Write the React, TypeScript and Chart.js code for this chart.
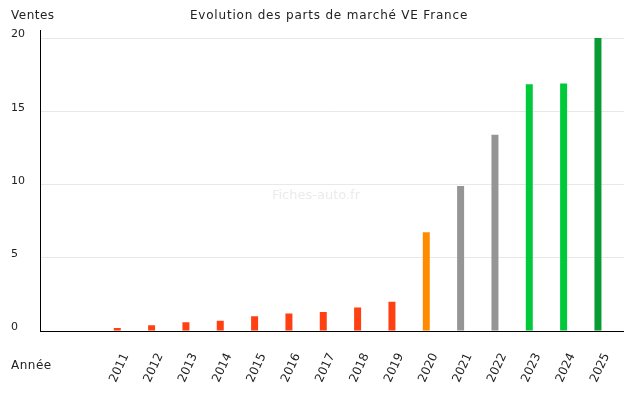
import React, { useEffect, useRef } from "react";
import { Chart, registerables } from "chart.js";

Chart.register(...registerables);

const categories = ["", "", "2011", "2012", "2013", "2014", "2015", "2016", "2017", "2018", "2019", "2020", "2021", "2022", "2023", "2024", "2025"];
const shares: (number | null)[] = [null, null, 0.2, 0.4, 0.6, 0.7, 1.0, 1.2, 1.3, 1.6, 2.0, 6.75, 9.9, 13.4, 16.85, 16.9, 20.0];
const barColors = ["#ff4013", "#ff4013", "#ff4013", "#ff4013", "#ff4013", "#ff4013", "#ff4013", "#ff4013", "#ff4013", "#ff4013", "#ff4013", "#ff8c00", "#959595", "#959595", "#00c93a", "#00c93a", "#069c32"];
const yTicks = [0, 5, 10, 15, 20];
const titleText = "Evolution des parts de marché VE France";
const yTitle = "Ventes";
const xTitle = "Année";
const watermark = "Fiches-auto.fr";

const FONT = "'DejaVu Sans', Verdana, sans-serif";

const textPlugin = {
  id: "texts",
  beforeDatasetsDraw(chart: any) {
    const ctx = chart.ctx;
    ctx.save();
    ctx.font = `13px ${FONT}`;
    ctx.fillStyle = "#ebebeb";
    ctx.textAlign = "center";
    ctx.textBaseline = "middle";
    ctx.fillText(watermark, 316, 196);
    ctx.restore();
  },
  afterDraw(chart: any) {
    const ctx = chart.ctx;
    ctx.save();
    ctx.font = `12px ${FONT}`;
    ctx.fillStyle = "#222";
    ctx.textBaseline = "middle";
    ctx.textAlign = "left";
    (ctx as any).letterSpacing = "0.5px";
    ctx.fillText(yTitle, 11, 16);
    ctx.fillText(xTitle, 11, 366);
    ctx.textAlign = "center";
    (ctx as any).letterSpacing = "0.8px";
    ctx.fillText(titleText, 329, 16);
    ctx.restore();
  },
};

export default function App() {
  const ref = useRef<HTMLCanvasElement | null>(null);
  useEffect(() => {
    if (!ref.current) return;
    const chart = new Chart(ref.current, {
      type: "bar",
      data: {
        labels: categories,
        datasets: [
          {
            data: shares,
            backgroundColor: barColors,
            borderWidth: 0,
            barPercentage: 0.407,
            categoryPercentage: 1,
          },
          {
            data: categories.map(() => null),
            backgroundColor: "transparent",
            barPercentage: 0.407,
            categoryPercentage: 1,
          },
        ],
      },
      options: {
        animation: false,
        responsive: false,
        layout: { padding: { left: 11, right: 14, top: 30, bottom: 0 } },
        plugins: { legend: { display: false }, tooltip: { enabled: false } },
        font: { family: FONT },
        scales: {
          x: {
            grid: { display: false, drawTicks: false },
            border: { display: true, color: "#000", width: 1 },
            ticks: {
              autoSkip: false,
              maxRotation: 65,
              minRotation: 65,
              padding: 20,
              color: "#222",
              font: { family: FONT, size: 12 },
            },
            afterFit(scale: any) {
              scale.height = 69;
            },
          },
          y: {
            min: 0,
            max: 20.55,
            afterBuildTicks(scale: any) {
              scale.ticks = yTicks.map((v) => ({ value: v }));
            },
            grid: { color: "#e8e8e8", drawTicks: false },
            border: { display: true, color: "#000", width: 1 },
            ticks: {
              crossAlign: "far",
              labelOffset: -3.5,
              color: "#222",
              font: { family: FONT, size: 11 },
            },
            afterFit(scale: any) {
              scale.width = 29;
            },
          },
        },
      } as any,
      plugins: [textPlugin],
    });
    return () => chart.destroy();
  }, []);
  return (
    <div style={{ position: "fixed", left: 0, top: 0, width: 640, height: 400, background: "#fff" }}>
      <canvas ref={ref} width={640} height={400} style={{ width: 640, height: 400, display: "block" }} />
    </div>
  );
}
